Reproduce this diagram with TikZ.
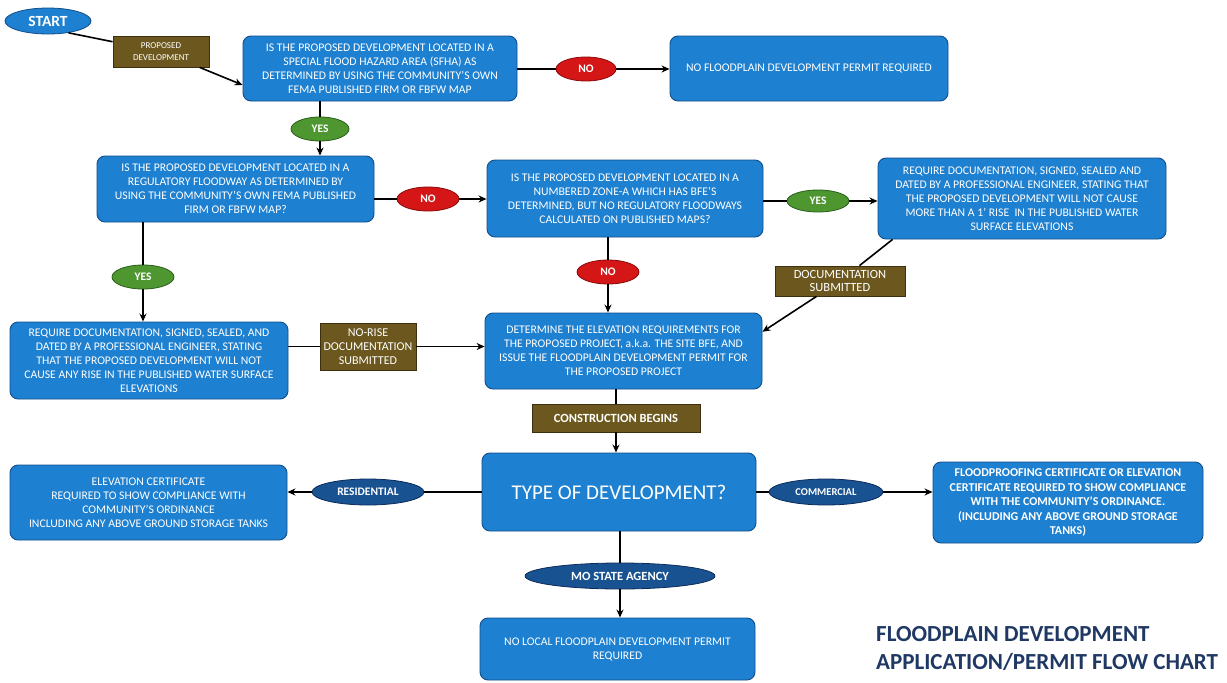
\documentclass[tikz,border=0pt]{standalone}
\usepackage{fontspec}
\setmainfont{Carlito}
\usetikzlibrary{shapes.geometric,arrows.meta,calc}
\definecolor{boxblue}{RGB}{30,128,208}
\definecolor{boxedge}{RGB}{18,78,140}
\definecolor{nored}{RGB}{212,22,22}
\definecolor{noredge}{RGB}{140,10,10}
\definecolor{yesgreen}{RGB}{78,150,48}
\definecolor{yesedge}{RGB}{40,95,25}
\definecolor{dkblue}{RGB}{24,82,145}
\definecolor{dkedge}{RGB}{12,45,90}
\definecolor{brownlab}{RGB}{108,88,30}
\definecolor{brownedge}{RGB}{60,48,15}
\definecolor{titlenavy}{RGB}{31,56,100}
\tikzset{
  box/.style={draw=boxedge, line width=0.9pt, fill=boxblue, rounded corners=8pt,
    text=white, align=center, inner sep=0pt, font=\fontsize{11.7}{14}\selectfont},
  noell/.style={ellipse, draw=noredge, line width=0.8pt, fill=nored, text=white,
    inner sep=0pt, minimum width=60pt, minimum height=24pt, font=\bfseries\fontsize{11.5}{12}\selectfont},
  yesell/.style={ellipse, draw=yesedge, line width=0.8pt, fill=yesgreen, text=white,
    inner sep=0pt, minimum width=60pt, minimum height=24pt, font=\bfseries\fontsize{11.5}{12}\selectfont},
  typeell/.style={ellipse, draw=dkedge, line width=0.8pt, fill=dkblue, text=white,
    inner sep=0pt, minimum height=26pt, font=\bfseries\fontsize{11.5}{12}\selectfont},
  brownbox/.style={draw=brownedge, line width=0.8pt, fill=brownlab, text=white,
    align=center, inner sep=0pt, font=\fontsize{12}{13.5}\selectfont},
  conn/.style={line width=1.6pt, black},
  arr/.style={conn, -{Stealth[length=8pt,width=7pt]}}
}
\begin{document}
\begin{tikzpicture}[x=1pt,y=-1pt]
\useasboundingbox[fill=white] (0,0) rectangle (1227,683);

% nodes
\node[ellipse, draw=boxedge, line width=0.8pt, fill=boxblue, text=white, inner sep=0pt,
  minimum width=86pt, minimum height=26pt, font=\bfseries\fontsize{15.5}{15}\selectfont] (start) at (48,21) {START};
\node[brownbox, minimum width=96pt, minimum height=31pt, font=\fontsize{9}{11.5}\selectfont] (propdev) at (161,51.5) {PROPOSED\\DEVELOPMENT};
\node[box, minimum width=274pt, minimum height=65pt] (q1) at (380,68.5)
  {IS THE PROPOSED DEVELOPMENT LOCATED IN A\\SPECIAL FLOOD HAZARD AREA (SFHA) AS\\DETERMINED BY USING THE COMMUNITY'S OWN\\FEMA PUBLISHED FIRM OR FBFW MAP};
\node[noell] (no1) at (586,69) {NO};
\node[box, minimum width=278pt, minimum height=65pt] (p1) at (809,68.5)
  {NO FLOODPLAIN DEVELOPMENT PERMIT REQUIRED};
\node[yesell, minimum width=58pt] (yes1) at (320,129) {YES};
\node[box, minimum width=277pt, minimum height=66pt] (q2) at (235.5,189)
  {IS THE PROPOSED DEVELOPMENT LOCATED IN A\\REGULATORY FLOODWAY AS DETERMINED BY\\USING THE COMMUNITY'S OWN FEMA PUBLISHED\\FIRM OR FBFW MAP?};
\node[noell, minimum width=62pt] (no2) at (428,199) {NO};
\node[box, minimum width=276pt, minimum height=77pt] (q3) at (625,198.5)
  {IS THE PROPOSED DEVELOPMENT LOCATED IN A\\NUMBERED ZONE-A WHICH HAS BFE'S\\DETERMINED, BUT NO REGULATORY FLOODWAYS\\CALCULATED ON PUBLISHED MAPS?};
\node[yesell, minimum width=62pt, minimum height=22pt] (yes2) at (818,201) {YES};
\node[box, minimum width=288pt, minimum height=81pt] (p2) at (1022,198.5)
  {REQUIRE DOCUMENTATION, SIGNED, SEALED AND\\DATED BY A PROFESSIONAL ENGINEER, STATING THAT\\THE PROPOSED DEVELOPMENT WILL NOT CAUSE\\MORE THAN A 1' RISE\ \ IN THE PUBLISHED WATER\\SURFACE ELEVATIONS};
\node[yesell, minimum width=62pt] (yes3) at (143,277) {YES};
\node[noell, minimum width=62pt] (no3) at (608,272) {NO};
\node[brownbox, minimum width=130pt, minimum height=30pt, font=\fontsize{12.5}{13}\selectfont] (docsub) at (840,281) {DOCUMENTATION\\SUBMITTED};
\node[box, minimum width=278pt, minimum height=77pt] (p3) at (149,360.5)
  {REQUIRE DOCUMENTATION, SIGNED, SEALED, AND\\DATED BY A PROFESSIONAL ENGINEER, STATING\\THAT THE PROPOSED DEVELOPMENT WILL NOT\\CAUSE ANY RISE IN THE PUBLISHED WATER SURFACE\\ELEVATIONS};
\node[brownbox, minimum width=96pt, minimum height=47pt, font=\fontsize{12}{14}\selectfont] (norise) at (368,346.5) {NO-RISE\\DOCUMENTATION\\SUBMITTED};
\node[box, minimum width=277pt, minimum height=76pt] (p4) at (623.5,351)
  {DETERMINE THE ELEVATION REQUIREMENTS FOR\\THE PROPOSED PROJECT, a.k.a. THE SITE BFE, AND\\ISSUE THE FLOODPLAIN DEVELOPMENT PERMIT FOR\\THE PROPOSED PROJECT};
\node[brownbox, minimum width=168pt, minimum height=28pt, font=\bfseries\fontsize{12.5}{13}\selectfont] (constr) at (616,418) {CONSTRUCTION BEGINS};
\node[box, minimum width=274pt, minimum height=78pt, font=\fontsize{21}{24}\selectfont] (type) at (619,492) {TYPE OF DEVELOPMENT?};
\node[typeell, minimum width=112pt] (res) at (368,492) {RESIDENTIAL};
\node[box, minimum width=277pt, minimum height=75pt] (p5) at (148.5,502.5)
  {ELEVATION CERTIFICATE\\REQUIRED TO SHOW COMPLIANCE WITH\\COMMUNITY'S ORDINANCE\\INCLUDING ANY ABOVE GROUND STORAGE TANKS};
\node[typeell, minimum width=114pt, font=\bfseries\fontsize{10.5}{12}\selectfont] (com) at (826,492) {COMMERCIAL};
\node[box, minimum width=270pt, minimum height=81pt, font=\bfseries\fontsize{12}{14.5}\selectfont] (p6) at (1068,502.5)
  {FLOODPROOFING CERTIFICATE OR ELEVATION\\CERTIFICATE REQUIRED TO SHOW COMPLIANCE\\WITH THE COMMUNITY'S ORDINANCE.\\(INCLUDING ANY ABOVE GROUND STORAGE\\TANKS)};
\node[typeell, minimum width=190pt, font=\bfseries\fontsize{12.5}{13}\selectfont] (mo) at (620,576) {MO STATE AGENCY};
\node[box, minimum width=275pt, minimum height=62pt] (p7) at (617.5,649)
  {NO LOCAL FLOODPLAIN DEVELOPMENT PERMIT\\REQUIRED};
\node[anchor=north west, align=left, text=titlenavy, inner sep=0pt,
  font=\bfseries\fontsize{23}{28}\selectfont] (title) at (876,626)
  {FLOODPLAIN DEVELOPMENT\\APPLICATION/PERMIT FLOW CHART};

% connectors
\draw[conn] (start.-30) -- (propdev);
\draw[arr] (propdev) -- ($(q1.south west)!0.25!(q1.north west)$);
\draw[conn] (q1.east |- no1) -- (no1);
\draw[arr] (no1) -- (p1.west |- no1);
\draw[conn] (q1.south -| yes1) -- (yes1);
\draw[arr] (yes1) -- (q2.north -| yes1);
\draw[conn] (q2.east |- no2) -- (no2);
\draw[arr] (no2) -- (q3.west |- no2);
\draw[conn] (q3.east |- yes2) -- (yes2);
\draw[arr] (yes2) -- (p2.west |- yes2);
\draw[conn] (q2.south -| yes3) -- (yes3);
\draw[arr] (yes3) -- (p3.north -| yes3);
\draw[conn] (q3.south -| no3) -- (no3);
\draw[arr] (no3) -- (p4.north -| no3);
\draw[conn] (p3.east |- norise) -- (norise);
\draw[arr] (norise) -- (p4.west |- norise);
\draw[conn] ($(p2.south west)+(15,0)$) -- (docsub);
\draw[arr] (docsub) -- ($(p4.north east)!0.25!(p4.south east)$);
\draw[conn] (p4.south -| constr) -- (constr);
\draw[arr] (constr) -- (type.north -| constr);
\draw[conn] (type.west |- res) -- (res);
\draw[arr] (res) -- (p5.east |- res);
\draw[conn] (type.east |- com) -- (com);
\draw[arr] (com) -- (p6.west |- com);
\draw[conn] (type.south -| mo) -- (mo);
\draw[arr] (mo) -- (p7.north -| mo);
\end{tikzpicture}
\end{document}
